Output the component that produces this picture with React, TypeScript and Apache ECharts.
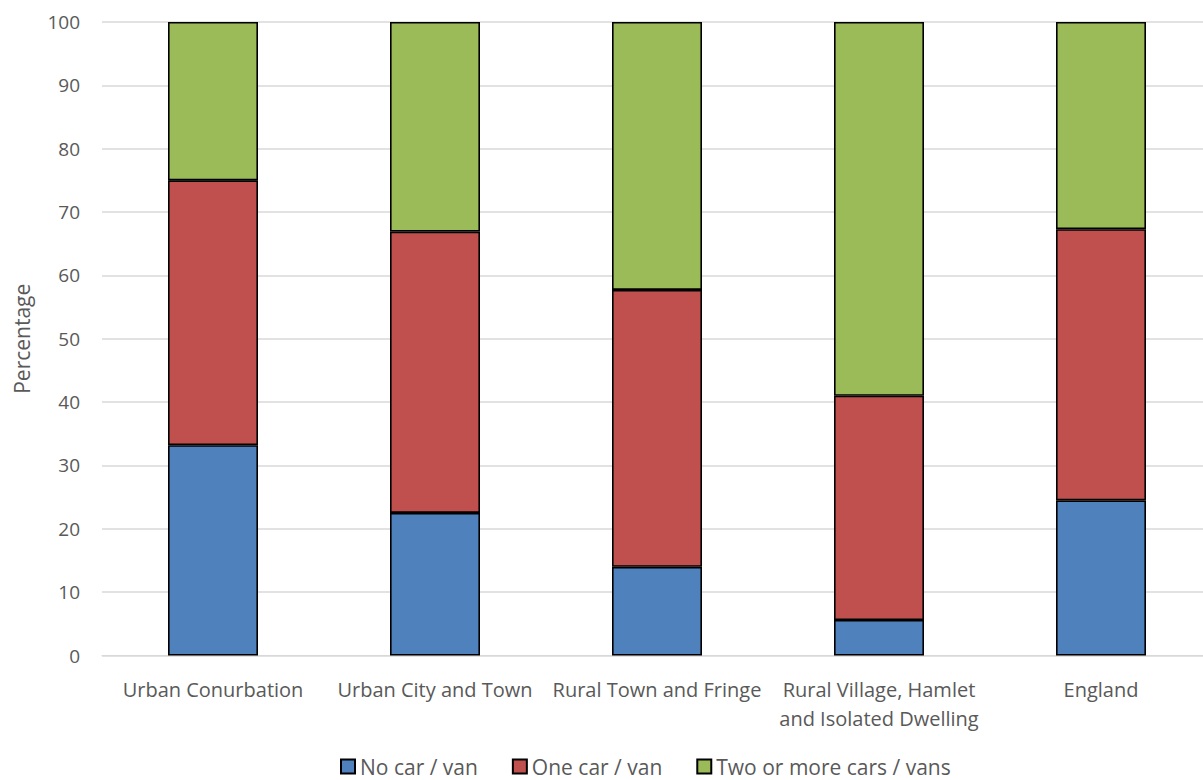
import React, { useEffect, useRef } from "react";
import * as echarts from "echarts";

const categories = [
  "Urban Conurbation",
  "Urban City and Town",
  "Rural Town and Fringe",
  "Rural Village, Hamlet\nand Isolated Dwelling",
  "England",
];
const noCar = [33.2, 22.5, 14.0, 5.6, 24.5];
const oneCar = [41.8, 44.4, 43.7, 35.4, 42.8];
const twoPlus = [25.0, 33.1, 42.3, 59.0, 32.7];
const seriesNames = ["No car / van", "One car / van", "Two or more cars / vans"];
const colors = ["#4F81BD", "#C0504D", "#9BBB59"];

export default function App() {
  const ref = useRef<HTMLDivElement>(null);
  useEffect(() => {
    if (!ref.current) return;
    const chart = echarts.init(ref.current, null, { renderer: "svg" });
    const font = "'Open Sans', 'Noto Sans', sans-serif";
    const data = [noCar, oneCar, twoPlus];
    chart.setOption({
      animation: false,
      textStyle: { fontFamily: font },
      grid: {
        left: 102,
        right: -9,
        top: 22,
        bottom: 124.5,
        containLabel: false,
        outerBoundsMode: "none",
      },
      legend: {
        top: 756,
        left: 340,
        padding: 0,
        itemWidth: 14,
        itemHeight: 14,
        itemGap: 34,
        icon: "rect",
        textStyle: { fontSize: 21, color: "#595959", fontFamily: font },
        data: seriesNames,
      },
      xAxis: {
        type: "category",
        data: categories,
        axisLine: { lineStyle: { color: "#D9D9D9", width: 1 } },
        axisTick: { show: false },
        axisLabel: {
          fontSize: 20,
          color: "#595959",
          margin: 19,
          lineHeight: 29,
          interval: 0,
        },
      },
      yAxis: {
        type: "value",
        min: 0,
        max: 100,
        interval: 10,
        name: "Percentage",
        nameLocation: "middle",
        nameGap: 70,
        nameTextStyle: { fontSize: 21, color: "#595959" },
        axisLine: { show: false },
        axisTick: { show: false },
        axisLabel: { fontSize: 19, color: "#595959", margin: 22 },
        splitLine: { lineStyle: { color: "#D9D9D9", width: 1.5 } },
      },
      series: seriesNames.map((name, i) => ({
        name,
        type: "bar",
        stack: "total",
        barWidth: 90,
        data: data[i],
        itemStyle: { color: colors[i], borderColor: "#000", borderWidth: 1.6 },
      })),
    });
    return () => chart.dispose();
  }, []);
  return (
    <div
      ref={ref}
      style={{ position: "fixed", left: 0, top: 0, width: 1203, height: 780, background: "#fff" }}
    />
  );
}
